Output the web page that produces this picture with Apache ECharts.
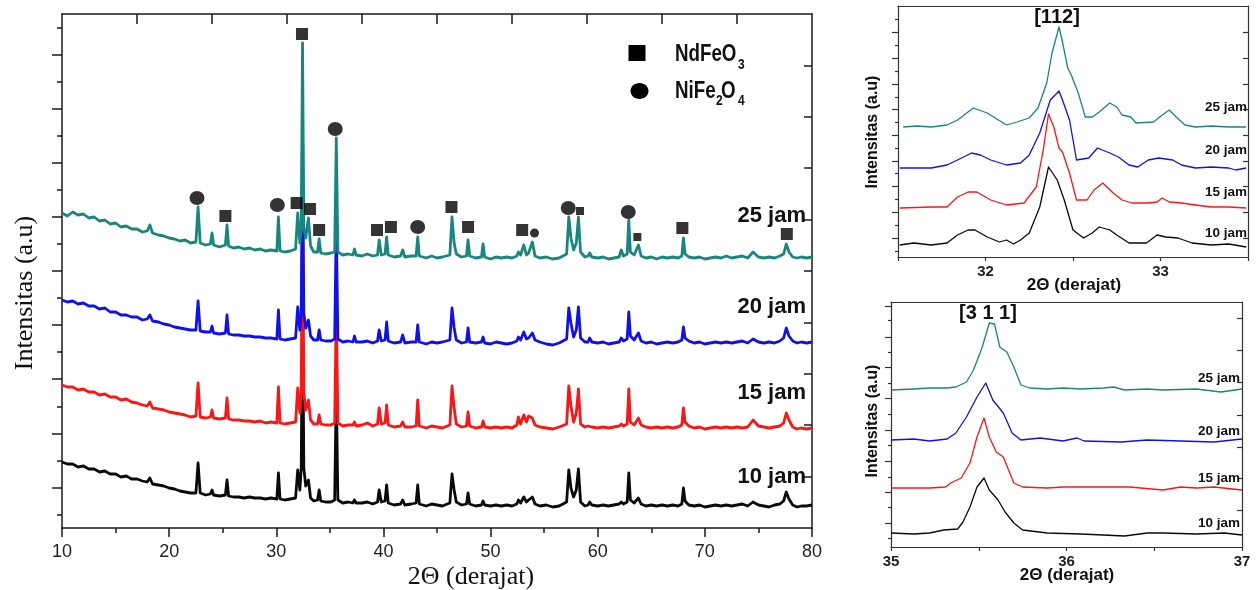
<!DOCTYPE html>
<html><head><meta charset="utf-8">
<script src="https://cdn.jsdelivr.net/npm/echarts@6/dist/echarts.min.js"></script>
<style>html,body{margin:0;padding:0;background:#fff}#c{width:1258px;height:590px}</style>
</head><body><div id="c"></div>
<script>
// ---------- main pattern data (2θ grid shared by all four samples) ----------
const twoTheta = [10,10.5,11,11.5,12,12.5,13,13.5,14,14.5,
15,15.5,16,16.5,17,17.5,17.95,18.2,18.45,19,
19.5,20,20.5,21,21.5,22,22.5,22.7,22.9,23.4,
23.85,24,24.15,24.7,25.25,25.4,25.55,26,26.5,27,
27.5,28,28.5,29,29.5,30.05,30.2,30.35,30.8,31.3,
31.8,32,32.2,32.33,32.45,32.57,32.75,33,33.2,33.5,
33.85,34,34.15,34.6,35.1,35.45,35.6,35.75,36.2,36.7,
37.15,37.3,37.45,38,38.5,39,39.45,39.6,39.8,40.15,
40.3,40.45,41,41.6,41.8,42,42.6,43.05,43.2,43.35,
44,44.5,45,45.5,46.2,46.4,46.6,46.8,47.3,47.75,
47.9,48.05,48.6,49.15,49.3,49.45,50,50.5,51,51.5,
52,52.45,52.6,52.8,53.1,53.35,53.55,53.9,54.15,54.6,
55.2,55.8,56.4,57.1,57.3,57.5,57.75,58,58.2,58.4,
58.8,59.1,59.25,59.45,60,60.5,61,61.5,62,62.2,
62.4,62.75,62.9,63.05,63.4,63.8,64.05,64.5,65,65.5,
66,66.5,67,67.5,67.85,68,68.15,68.5,69,69.5,
70,70.5,71,71.5,72,72.5,73,73.5,74,74.5,
75,75.5,76,76.5,77,77.35,77.6,77.85,78.2,78.6,
79,79.5,80];

const int25 = [315,312,316,313,314,310,311,307,308,304,
305,301,302,299,299,296,297,303,295,293,
292,290,289,287,288,285,286,321,285,283,
284,295,283,281,283,303,282,280,281,279,
280,278,279,277,278,277,311,277,276,277,
279,315,285,300,485,300,290,310,282,276,
276,289,275,274,275,276,390,276,273,274,
273,279,273,272,274,272,273,288,273,274,
291,273,271,272,278,271,272,272,291,272,
270,272,270,271,273,311,285,274,271,272,
288,272,270,271,284,271,269,271,270,271,
270,272,276,273,283,273,275,286,272,270,
271,269,270,274,311,290,278,285,311,276,
271,272,275,271,270,271,269,270,271,278,
272,274,308,276,273,283,272,270,271,269,
271,270,271,270,272,290,274,271,270,271,
269,270,271,270,272,270,271,272,270,276,
271,270,271,270,272,274,284,276,271,270,
271,270,271];

const int20 = [228,226,227,224,225,222,222,219,220,216,
216,213,213,211,211,208,209,213,207,206,
204,203,201,200,199,198,198,227,197,196,
196,202,195,194,195,213,194,193,193,192,
192,191,191,190,190,189,218,189,188,189,
190,221,198,215,400,215,200,208,192,188,
188,198,188,187,187,189,305,189,186,187,
186,192,186,186,187,185,187,198,187,188,
206,187,185,186,193,185,186,186,203,186,
184,186,185,186,188,220,200,188,185,186,
200,186,185,186,191,185,184,186,185,184,
185,187,191,188,196,189,190,195,188,186,
184,183,185,189,220,205,191,198,221,190,
186,186,190,186,185,186,184,185,186,190,
187,189,216,192,188,195,187,185,186,184,
185,186,185,186,188,201,190,187,185,186,
184,185,186,185,186,185,186,187,185,189,
186,185,186,185,187,190,200,192,187,185,
186,185,186];

const int15 = [143,141,141,138,139,136,136,133,134,131,
131,128,129,126,125,123,122,126,120,119,
118,116,115,114,113,111,112,145,111,110,
111,118,110,109,110,130,109,108,108,107,
107,106,107,105,106,105,141,105,104,105,
106,140,115,135,318,135,118,128,108,104,
104,113,104,103,103,105,220,105,102,103,
103,106,102,103,105,102,104,120,104,105,
123,103,101,102,106,101,101,102,128,102,
100,102,101,100,103,142,120,104,101,102,
116,102,100,101,107,101,100,101,100,101,
100,103,111,104,113,106,112,110,103,101,
100,99,101,104,142,122,106,115,139,104,
101,102,104,101,100,101,100,101,102,104,
102,104,139,106,103,110,103,101,100,101,
100,101,100,101,103,120,106,102,100,101,
99,100,101,100,101,100,101,100,101,108,
102,101,100,101,102,105,115,108,101,99,
100,99,100];

const int10 = [66,64,64,61,62,59,59,56,57,54,
54,51,52,49,49,47,46,50,44,43,
42,40,39,37,36,35,35,65,35,33,
34,38,33,32,33,48,32,31,31,30,
31,30,30,29,30,29,55,29,28,29,
30,58,38,60,240,60,42,48,30,27,
28,38,27,26,26,28,141,28,25,26,
25,28,25,25,26,24,26,38,26,27,
43,25,23,24,28,23,24,25,43,24,
22,24,23,22,25,54,38,26,23,24,
35,24,22,23,27,23,22,23,22,23,
22,24,28,25,31,26,28,31,24,22,
23,21,22,26,58,40,31,38,59,26,
22,23,26,23,22,23,22,23,24,26,
24,26,55,28,25,30,24,22,23,22,
23,22,23,22,24,40,27,23,22,23,
21,22,23,22,23,22,23,24,22,26,
23,22,21,23,24,27,36,29,23,21,
22,22,23];

// phase markers [2θ, intensity]
const markNiFe2O4 = [[22.6,330],[30.1,323],[35.5,399],[43.2,301],[57.25,320],[62.85,316]];
const markNiFe2O4Small = [[54.1,295]];
const markNdFeO3 = [[25.25,312],[31.9,325],[32.4,494],[33.15,319],[34.0,298],[39.4,298],[40.7,301],[46.35,321],[47.9,301],[52.95,298],[67.9,300],[77.65,294]];
const markNdFeO3Small = [[58.35,317],[63.7,291]];

// ---------- inset [112] ----------
const p112_25 = [[31.53,130],[31.61,131],[31.69,130],[31.78,132],[31.84,137],[31.93,149],[32.01,144],[32.12,132],[32.18,135],[32.25,139],[32.30,149],[32.35,174],[32.38,204],[32.42,230],[32.44,215],[32.47,189],[32.49,182],[32.53,164],[32.57,140],[32.61,140],[32.65,145],[32.71,154],[32.75,150],[32.78,142],[32.83,140],[32.86,134],[32.96,135],[33.01,142],[33.05,147],[33.09,140],[33.14,132],[33.20,130],[33.29,131],[33.39,130],[33.49,130]];
const p112_20 = [[31.51,89],[31.59,89],[31.69,89],[31.78,92],[31.84,97],[31.92,104],[31.97,102],[32.03,97],[32.12,92],[32.20,94],[32.25,102],[32.31,124],[32.37,157],[32.42,166],[32.44,157],[32.48,137],[32.52,97],[32.59,99],[32.64,109],[32.71,104],[32.76,100],[32.82,92],[32.87,90],[32.93,97],[32.99,99],[33.07,97],[33.12,92],[33.20,89],[33.29,90],[33.39,89],[33.43,87],[33.49,89]];
const p112_15 = [[31.51,49],[31.69,50],[31.78,50],[31.84,60],[31.90,65],[31.95,65],[32.03,57],[32.12,52],[32.22,54],[32.29,70],[32.33,107],[32.36,143],[32.39,130],[32.42,109],[32.44,105],[32.48,84],[32.52,57],[32.58,57],[32.62,67],[32.67,74],[32.73,64],[32.78,57],[32.84,54],[32.93,54],[32.98,55],[33.01,59],[33.05,55],[33.12,54],[33.20,52],[33.29,50],[33.39,50],[33.49,49]];
const p112_10 = [[31.51,12],[31.59,14],[31.69,12],[31.78,14],[31.84,22],[31.90,27],[31.94,27],[32.01,20],[32.08,15],[32.12,17],[32.16,13],[32.20,17],[32.25,24],[32.31,50],[32.36,90],[32.41,77],[32.45,57],[32.50,27],[32.56,19],[32.61,24],[32.65,30],[32.71,27],[32.75,22],[32.82,14],[32.92,14],[32.98,22],[33.03,20],[33.10,19],[33.18,14],[33.29,12],[33.39,13],[33.49,10]];

// ---------- inset [3 1 1] ----------
const p311_25 = [[35.00,157],[35.13,158],[35.22,159],[35.32,159],[35.37,160],[35.43,165],[35.47,177],[35.52,200],[35.56,224],[35.59,223],[35.62,200],[35.66,195],[35.70,180],[35.74,162],[35.79,159],[35.89,158],[35.98,159],[36.08,158],[36.21,159],[36.27,160],[36.33,157],[36.46,158],[36.55,157],[36.74,158],[36.88,155],[37.00,158]];
const p311_20 = [[35.00,107],[35.13,108],[35.22,106],[35.32,108],[35.37,114],[35.43,130],[35.49,150],[35.54,164],[35.58,147],[35.64,134],[35.69,114],[35.74,107],[35.85,109],[35.98,106],[36.06,109],[36.10,106],[36.31,105],[36.46,107],[36.65,106],[36.84,105],[37.00,108]];
const p311_15 = [[35.00,59],[35.22,59],[35.31,60],[35.34,64],[35.40,69],[35.45,84],[35.49,110],[35.53,129],[35.56,110],[35.60,95],[35.64,90],[35.70,64],[35.75,60],[35.89,59],[35.98,60],[36.17,60],[36.36,60],[36.55,57],[36.65,60],[36.74,59],[36.84,60],[37.00,57]];
const p311_10 = [[35.00,14],[35.13,13],[35.22,14],[35.30,17],[35.38,18],[35.41,25],[35.45,40],[35.49,60],[35.53,69],[35.56,57],[35.61,47],[35.65,35],[35.70,24],[35.75,17],[35.89,14],[36.08,13],[36.21,12],[36.33,11],[36.46,14],[36.55,14],[36.74,13],[36.90,14],[37.00,12]];

const sampleNames = ['10 jam','15 jam','20 jam','25 jam'];
const colors = ['#0a0a0a','#ff1414','#1010ee','#17877e'];

// ---------- tick positions ----------
const mainTopTicks = [17,24,31,38,45,52,59,66,73];
const mainLeftMajor = [40.6,94.7,148.8,202.9,257,311.1,365.2,419.3,473.4];
const mainLeftMinor = [13.5,67.6,121.7,175.8,229.9,284,338.1,392.2,446.3,500.4];
const mainRightTicks = [51.4,102.8,154.2,205.6,257,308.4,359.8,411.2,462.6];
const in1Major = [19,45,71,96,122,148,173,199,225];
const in1Minor = [6,32,58,84,109,135,160,186,212,238];
const in2Major = [24,55,86,117,149,180,210,241];
const in2Minor = [9,40,70,102,133,164,195,227];
const in2Right = [37,69,100,132,165,197,229];

const SANS = '"Liberation Sans", Arial, Helvetica, sans-serif';
const SERIF = '"Liberation Serif", "Times New Roman", serif';
const AX = {color:'#1a1a1a', width:1.5};
const AXs = {color:'#333', width:1.2};

const zip = (xs, ys) => xs.map((x,i)=>[x, ys[i]]);
const intFmt = v => Math.abs(v-Math.round(v))<1e-6 ? String(Math.round(v)) : '';

function yAx(grid, max, pos, ticks, len, inside, showLine, ls){
  return {gridIndex:grid, type:'value', min:0, max:max, position:pos,
    axisLine:{show:showLine, onZero:false, lineStyle:ls},
    axisTick:{show:true, inside:inside, length:len, lineStyle:ls, customValues:ticks},
    axisLabel:{show:false}, splitLine:{show:false}};
}

function lineS(data, xi, yi, color, w){
  return {type:'line', xAxisIndex:xi, yAxisIndex:yi, data:data, symbol:'none', showSymbol:false,
    lineStyle:{color:color, width:w, join:'round'}, itemStyle:{color:color}, silent:true, animation:false};
}
function markS(data, sym, size){
  return {type:'scatter', xAxisIndex:0, yAxisIndex:0, data:data, symbol:sym, symbolSize:size,
    itemStyle:{color:'#000'}, silent:true, z:5};
}

const mainSets = [int10, int15, int20, int25];
const in112 = [p112_10, p112_15, p112_20, p112_25];
const in311 = [p311_10, p311_15, p311_20, p311_25];

const series = [];
mainSets.forEach((d,i)=>series.push(lineS(zip(twoTheta,d),0,0,colors[i],2.8)));
series.push(markS(markNdFeO3,'rect',12));
series.push(markS(markNdFeO3Small,'rect',8));
series.push(markS(markNiFe2O4,'circle',[15,14]));
series.push(markS(markNiFe2O4Small,'circle',9));
in112.forEach((d,i)=>series.push(lineS(d,2,3,colors[i],1.3)));
in311.forEach((d,i)=>series.push(lineS(d,4,6,colors[i],1.3)));

function txt(x,y,text,font,align,extra){
  return Object.assign({type:'text', x:x, y:y, silent:true, z:100,
    style:{text:text, font:font, fill:'#111', align:align||'center', textAlign:align||'center',
      verticalAlign:'middle', textVerticalAlign:'middle'}}, extra||{});
}

const graphic = [
  txt(25,293,'Intensitas (a.u)','26px '+SERIF,'center',{rotation:Math.PI/2}),
  txt(471,577,'2Θ (derajat)','26px '+SERIF,'center'),
  // legend
  {type:'rect', shape:{x:628.5,y:45,width:17,height:16}, style:{fill:'#000'}, silent:true},
  {type:'ellipse', shape:{cx:639.5,cy:91,rx:9,ry:8}, style:{fill:'#000'}, silent:true},
  txt(675,54,'NdFeO','bold 24px '+SANS,'left',{scaleX:0.78}),
  txt(738,65,'3','bold 15px '+SANS,'left',{scaleX:0.8}),
  txt(675,91,'NiFe','bold 24px '+SANS,'left',{scaleX:0.78}),
  txt(716,101,'2','bold 15px '+SANS,'left',{scaleX:0.8}),
  txt(721,91,'O','bold 24px '+SANS,'left',{scaleX:0.78}),
  txt(738,101,'4','bold 15px '+SANS,'left',{scaleX:0.8}),
  // main sample labels
  txt(806,477,sampleNames[0],'bold 22px '+SANS,'right'),
  txt(806,393,sampleNames[1],'bold 22px '+SANS,'right'),
  txt(806,307,sampleNames[2],'bold 22px '+SANS,'right'),
  txt(806,216,sampleNames[3],'bold 22px '+SANS,'right'),
  // inset 1
  txt(1057,17,'[112]','bold 20px '+SANS,'center'),
  txt(873,132,'Intensitas (a.u)','bold 16px '+SANS,'center',{rotation:Math.PI/2}),
  txt(1074,285,'2Θ (derajat)','bold 17px '+SANS,'center'),
  txt(1247,233,sampleNames[0],'bold 13.5px '+SANS,'right'),
  txt(1247,192,sampleNames[1],'bold 13.5px '+SANS,'right'),
  txt(1247,150,sampleNames[2],'bold 13.5px '+SANS,'right'),
  txt(1247,107,sampleNames[3],'bold 13.5px '+SANS,'right'),
  // inset 2
  txt(988,313,'[3 1 1]','bold 20px '+SANS,'center'),
  txt(873,421,'Intensitas (a.u)','bold 16px '+SANS,'center',{rotation:Math.PI/2}),
  txt(1067,575,'2Θ (derajat)','bold 17px '+SANS,'center'),
  txt(1240,523,sampleNames[0],'bold 13.5px '+SANS,'right'),
  txt(1240,478,sampleNames[1],'bold 13.5px '+SANS,'right'),
  txt(1240,431,sampleNames[2],'bold 13.5px '+SANS,'right'),
  txt(1240,378,sampleNames[3],'bold 13.5px '+SANS,'right')
];

const option = {
  animation:false,
  backgroundColor:'#fff',
  grid:[
    {left:62, top:14, width:750, height:514},
    {left:898, top:6, width:350, height:251},
    {left:891, top:302, width:351, height:245}
  ],
  xAxis:[
    {gridIndex:0, type:'value', position:'bottom', min:10, max:80, interval:10,
     axisLine:{onZero:false, lineStyle:AX}, axisTick:{length:9, lineStyle:AX},
     minorTick:{show:true, splitNumber:2, length:5, lineStyle:AX},
     axisLabel:{fontSize:18, color:'#222', margin:15, fontFamily:SANS},
     splitLine:{show:false}, minorSplitLine:{show:false}},
    {gridIndex:0, type:'value', position:'top', min:10, max:80,
     axisLine:{onZero:false, lineStyle:AX},
     axisTick:{show:true, inside:true, length:10, lineStyle:AX, customValues:mainTopTicks},
     axisLabel:{show:false}, splitLine:{show:false}},
    {gridIndex:1, type:'value', position:'bottom', min:31.5, max:33.5, interval:0.5,
     axisLine:{onZero:false, lineStyle:AXs}, axisTick:{length:4, lineStyle:AXs},
     axisLabel:{fontSize:15, fontWeight:'bold', color:'#222', margin:7, fontFamily:SANS, formatter:intFmt},
     splitLine:{show:false}},
    {gridIndex:1, type:'value', position:'top', min:31.5, max:33.5,
     axisLine:{onZero:false, lineStyle:AXs}, axisTick:{show:false}, axisLabel:{show:false}, splitLine:{show:false}},
    {gridIndex:2, type:'value', position:'bottom', min:35, max:37, interval:0.5,
     axisLine:{onZero:false, lineStyle:AXs}, axisTick:{length:4, lineStyle:AXs},
     axisLabel:{fontSize:15, fontWeight:'bold', color:'#222', margin:7, fontFamily:SANS, formatter:intFmt},
     splitLine:{show:false}},
    {gridIndex:2, type:'value', position:'top', min:35, max:37,
     axisLine:{onZero:false, lineStyle:AXs}, axisTick:{show:false}, axisLabel:{show:false}, splitLine:{show:false}}
  ],
  yAxis:[
    yAx(0,514,'left',mainLeftMajor,10,false,true,AX),
    yAx(0,514,'left',mainLeftMinor,5,false,false,AX),
    yAx(0,514,'right',mainRightTicks,8,true,true,AX),
    yAx(1,251,'left',in1Major,6,false,true,AXs),
    yAx(1,251,'left',in1Minor,3,false,false,AXs),
    yAx(1,251,'right',in1Major,5,true,true,AXs),
    yAx(2,245,'left',in2Major,6,false,true,AXs),
    yAx(2,245,'left',in2Minor,3,false,false,AXs),
    yAx(2,245,'right',in2Right,5,true,true,AXs)
  ],
  series:series,
  graphic:graphic
};

const chart = echarts.init(document.getElementById('c'), null, {renderer:'canvas'});
chart.setOption(option);
</script></body></html>
